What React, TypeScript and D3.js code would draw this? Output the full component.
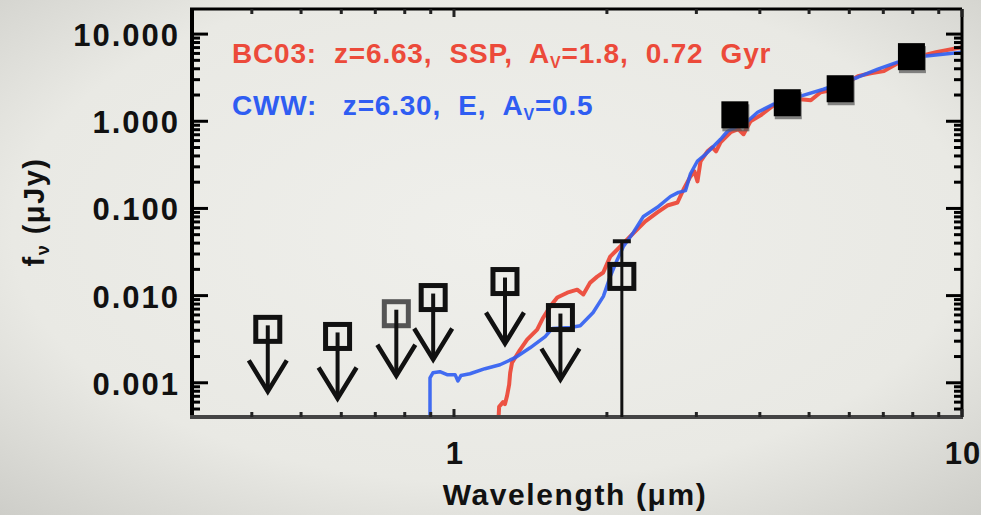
import React from 'react';
import * as d3 from 'd3';

const W = 981, H = 515;
const PL = 192, PR = 962, PT = 9, PB = 417;

// axis ticks (labels)
const yTickValues = [0.001, 0.01, 0.1, 1, 10];
const yTickLabels = ['0.001', '0.010', '0.100', '1.000', '10.000'];
const xTickValues = [1, 10];
const xTickLabels = ['1', '10'];

// photometry: upper limits (open squares with arrows)
const limitWave = [0.43, 0.59, 0.77, 0.91, 1.26, 1.62];
const limitFlux = [0.0041, 0.0034, 0.0062, 0.0095, 0.0145, 0.0056];
const limitGray = [false, false, true, false, false, false];
// detection with error bar (open square)
const detWave = [2.14];
const detFlux = [0.0166];
const detErrHigh = [0.042];
// IRAC detections (filled squares)
const iracWave = [3.58, 4.54, 5.77, 7.97];
const iracFlux = [1.17, 1.61, 2.33, 5.44];

// BC03 model (red)
const bc03Wave = [1.221, 1.227, 1.249, 1.26, 1.272, 1.284, 1.29, 1.301, 1.319, 1.349, 1.393, 1.458, 1.498, 1.546, 1.597, 1.671, 1.748, 1.797, 1.854, 1.914, 1.967, 2.03, 2.097, 2.193, 2.223, 2.38, 2.514, 2.63, 2.754, 2.83, 2.921, 2.974, 3.015, 3.057, 3.155, 3.225, 3.28, 3.347, 3.503, 3.63, 3.715, 3.834, 4.014, 4.26, 4.6, 4.81, 5.04, 5.27, 5.64, 6.24, 6.61, 7.02, 7.47, 8.11, 8.89, 10.0];
const bc03Flux = [0.0003, 0.00053, 0.0006, 0.00057, 0.00071, 0.00095, 0.0013, 0.0017, 0.00194, 0.00239, 0.00312, 0.00407, 0.00558, 0.00748, 0.0095, 0.0108, 0.0117, 0.0103, 0.0141, 0.0165, 0.0184, 0.028, 0.0338, 0.044, 0.0477, 0.071, 0.09, 0.108, 0.117, 0.165, 0.233, 0.266, 0.204, 0.347, 0.452, 0.502, 0.452, 0.574, 0.748, 0.81, 0.71, 1.0, 1.17, 1.53, 1.74, 1.79, 1.74, 2.15, 2.33, 3.29, 3.56, 3.76, 4.64, 5.44, 6.21, 7.09];

// CWW model (blue)
const cwwWave = [0.897, 0.897, 0.909, 0.938, 0.969, 1.005, 1.018, 1.032, 1.075, 1.151, 1.232, 1.319, 1.412, 1.512, 1.561, 1.694, 1.772, 1.879, 1.968, 2.03, 2.097, 2.155, 2.255, 2.36, 2.514, 2.667, 2.766, 2.855, 2.921, 3.015, 3.127, 3.243, 3.347, 3.455, 3.614, 3.783, 3.96, 4.26, 4.81, 5.34, 6.24, 6.83, 7.47, 8.41, 10.0];
const cwwFlux = [0.0003, 0.00114, 0.0013, 0.00134, 0.00124, 0.00124, 0.00105, 0.00121, 0.00127, 0.00145, 0.00161, 0.00194, 0.00252, 0.00338, 0.0042, 0.0043, 0.0045, 0.0064, 0.0098, 0.0165, 0.026, 0.0366, 0.053, 0.081, 0.103, 0.137, 0.153, 0.16, 0.25, 0.35, 0.418, 0.516, 0.621, 0.768, 0.877, 1.0, 1.27, 1.57, 1.94, 2.33, 3.2, 3.96, 4.77, 5.58, 6.21];

const FONT = '"Liberation Sans", Arial, Helvetica, sans-serif';
const RED = '#ec4a3a';
const BLUE = '#2f5df2';

export default function App() {
  const x = d3.scaleLog().domain([0.305, 10]).range([PL, PR]);
  const y = d3.scaleLog().domain([0.000405, 19.4]).range([PB, PT]);

  const line = d3.line<[number, number]>().x(d => x(d[0])).y(d => y(d[1]));
  const bc03 = bc03Wave.map((w, i) => [w, bc03Flux[i]] as [number, number]);
  const cww = cwwWave.map((w, i) => [w, cwwFlux[i]] as [number, number]);

  const yMinor = y.ticks();
  const xMinor = x.ticks();
  const isMajor = (v: number) => Math.abs(Math.log10(v) - Math.round(Math.log10(v))) < 1e-6;

  const sq = 24;
  const arrowLen = 62;

  return (
    <svg width={W} height={H} style={{ position: 'absolute', left: 0, top: 0 }} fontFamily={FONT}>
      <defs>
        <radialGradient id="bg" cx="50%" cy="45%" r="75%">
          <stop offset="0%" stopColor="#efefeb" />
          <stop offset="65%" stopColor="#e9e9e4" />
          <stop offset="100%" stopColor="#cdcdc8" />
        </radialGradient>
        <clipPath id="plot">
          <rect x={PL} y={PT} width={PR - PL} height={PB - PT} />
        </clipPath>
      </defs>
      <rect x={0} y={0} width={W} height={H} fill="url(#bg)" />

      {/* model curves */}
      <g clipPath="url(#plot)" fill="none" strokeLinejoin="round">
        <path d={line(bc03) || ''} stroke={RED} strokeWidth={4} opacity={0.95} />
        <path d={line(cww) || ''} stroke={BLUE} strokeWidth={3.5} opacity={0.9} />
      </g>

      {/* frame */}
      <g>
        <line x1={PL - 2} x2={PR} y1={PT} y2={PT} stroke="#000" strokeWidth={3} />
        <line x1={PL} x2={PL} y1={PT} y2={PB} stroke="#000" strokeWidth={4} />
        <line x1={PR} x2={PR} y1={PT} y2={PB} stroke="#000" strokeWidth={3} />
        <line x1={PL - 2} x2={PR + 1} y1={PB} y2={PB} stroke="#444" strokeWidth={4} />
      </g>

      {/* y ticks */}
      <g stroke="#000" strokeWidth={3}>
        {yMinor.map((v, i) => {
          const len = isMajor(v) ? 16 : 8;
          const yy = y(v);
          return (
            <g key={i}>
              <line x1={PL} x2={PL + len} y1={yy} y2={yy} />
              <line x1={PR} x2={PR - len} y1={yy} y2={yy} />
            </g>
          );
        })}
      </g>
      {/* x ticks */}
      <g stroke="#222" strokeWidth={3}>
        {xMinor.map((v, i) => {
          const len = isMajor(v) ? 8 : 5;
          const xx = x(v);
          return (
            <g key={i}>
              <line x1={xx} x2={xx} y1={PB} y2={PB - len} />
              <line x1={xx} x2={xx} y1={PT} y2={PT + len} />
            </g>
          );
        })}
      </g>

      {/* y tick labels */}
      <g fontSize={31} fontWeight="bold" textAnchor="end" fill="#111" letterSpacing={2}>
        {yTickValues.map((v, i) => (
          <text key={i} x={180} y={y(v) + 12}>{yTickLabels[i]}</text>
        ))}
      </g>
      {/* x tick labels */}
      <g fontSize={31} fontWeight="bold" textAnchor="middle" fill="#111" letterSpacing={1}>
        {xTickValues.map((v, i) => (
          <text key={i} x={x(v) + 1} y={464}>{xTickLabels[i]}</text>
        ))}
      </g>

      {/* axis titles */}
      <text x={575} y={505} fontSize={30} fontWeight="bold" textAnchor="middle" fill="#111" letterSpacing={1.6}>
        Wavelength (μm)
      </text>
      <text transform="translate(44,212) rotate(-90)" fontSize={29} fontWeight="bold" textAnchor="middle" fill="#111" letterSpacing={1.5}>
        f<tspan fontSize={18} dy={5}>ν</tspan><tspan dy={-5}> (μJy)</tspan>
      </text>

      {/* legend */}
      <text x={232} y={63} fontSize={28} fontWeight="bold" fill={RED} letterSpacing={0.8} style={{ whiteSpace: 'pre' }}>
        BC03:  z=6.63,  SSP,  A<tspan fontSize={16} dy={5}>V</tspan><tspan dy={-5}>=1.8,  0.72  Gyr</tspan>
      </text>
      <text x={232} y={115} fontSize={28} fontWeight="bold" fill={BLUE} letterSpacing={0.8} style={{ whiteSpace: 'pre' }}>
        CWW:   z=6.30,  E,  A<tspan fontSize={16} dy={5}>V</tspan><tspan dy={-5}>=0.5</tspan>
      </text>

      {/* upper limits */}
      <g fill="none" strokeLinecap="butt">
        {limitWave.map((w, i) => {
          const cx = x(w), cy = y(limitFlux[i]);
          const col = limitGray[i] ? '#555' : '#111';
          const tip = cy + arrowLen;
          return (
            <g key={i} stroke={col}>
              <rect x={cx - sq / 2} y={cy - sq / 2} width={sq} height={sq} strokeWidth={5} />
              <line x1={cx} x2={cx} y1={cy - 4} y2={tip} strokeWidth={4} stroke="#111" />
              <polyline points={`${cx - 19},${tip - 31} ${cx},${tip} ${cx + 19},${tip - 31}`} strokeWidth={4.5} stroke="#111" />
            </g>
          );
        })}
      </g>

      {/* detection with error bar */}
      <g fill="none" stroke="#111">
        {detWave.map((w, i) => {
          const cx = x(w), cy = y(detFlux[i]), top = y(detErrHigh[i]);
          return (
            <g key={i}>
              <line x1={cx} x2={cx} y1={top} y2={PB} strokeWidth={3} />
              <line x1={cx - 9} x2={cx + 9} y1={top} y2={top} strokeWidth={4} />
              <rect x={cx - sq / 2} y={cy - sq / 2} width={sq} height={sq} strokeWidth={5} />
            </g>
          );
        })}
      </g>

      {/* IRAC filled squares */}
      <g>
        {iracWave.map((w, i) => {
          const cx = x(w), cy = y(iracFlux[i]);
          return (
            <g key={i}>
              <rect x={cx - 13} y={cy - 11} width={27} height={27} fill="#555" opacity={0.7} />
              <rect x={cx - 14} y={cy - 14} width={27} height={27} fill="#000" />
            </g>
          );
        })}
      </g>
    </svg>
  );
}
